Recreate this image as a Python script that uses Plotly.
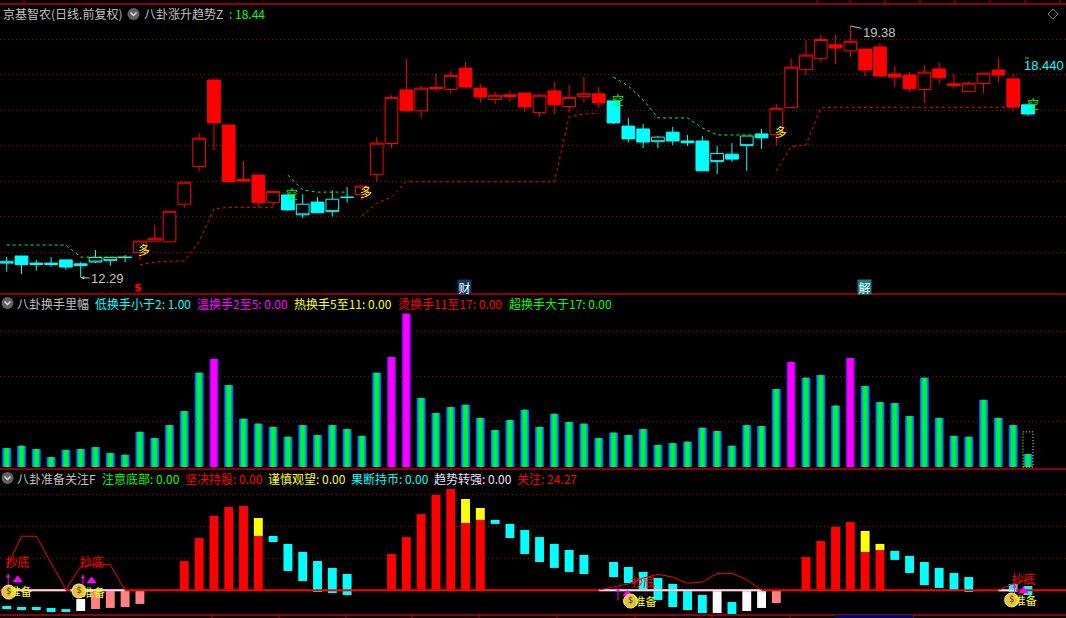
import plotly.graph_objects as go

W, H = 1066, 618
RED, CYAN, GREEN, YEL, MAG = "#ff0000", "#00ffff", "#00ff00", "#ffff00", "#ff00ff"
GREY = "#c0c0c0"
CJK = "Noto Sans CJK SC"

# ---------- main panel: candles (top / bottom of the body, high, low) ----------
BODY_TOP = [12.75,12.90,12.70,12.70,12.79,12.68,12.86,12.86,12.87,13.32,13.40,14.16,14.98,16.22,17.86,16.59,15.06,15.18,14.72,14.62,
            14.36,14.42,14.50,14.56,14.87,16.08,17.37,17.58,17.63,17.65,17.99,18.19,17.63,17.43,17.44,17.49,17.43,17.55,17.37,17.47,
            17.47,17.27,16.56,16.48,16.25,16.39,16.14,16.14,15.79,15.77,16.28,16.34,17.06,18.22,18.56,19.00,18.85,18.95,18.73,18.79,
            18.03,18.00,18.08,18.17,17.75,17.77,18.05,18.14,17.89,17.16]
BODY_BOT = [12.70,12.66,12.66,12.66,12.59,12.63,12.73,12.77,12.86,13.00,13.32,13.30,14.36,15.42,16.65,14.99,15.01,14.40,14.41,14.20,
            14.06,14.12,14.15,14.55,14.63,15.19,16.07,16.99,16.99,17.61,17.59,17.66,17.38,17.31,17.39,17.10,16.94,17.16,17.11,17.39,
            17.21,16.65,16.20,16.11,16.12,16.14,16.09,15.30,15.56,15.63,16.01,16.23,16.32,17.08,18.15,18.46,18.76,18.68,18.14,17.97,
            17.94,17.61,17.59,17.92,17.70,17.53,17.76,18.00,17.10,16.90]
HIGH = [12.88,12.90,12.79,12.87,12.79,12.73,13.07,12.86,12.93,13.32,13.77,14.16,14.98,16.36,17.86,16.59,15.58,15.18,14.72,14.62,
        14.64,14.56,14.75,14.84,14.87,16.25,17.43,18.45,17.69,18.05,18.11,18.37,17.75,17.52,17.55,17.49,17.47,17.80,17.72,17.94,
        17.66,17.27,16.79,16.62,16.28,16.54,16.31,16.28,16.00,16.08,16.28,16.48,17.18,18.47,18.99,19.13,19.13,19.38,18.73,18.90,
        18.25,18.09,18.28,18.35,18.03,17.83,18.05,18.48,18.03,17.16]
LOW = [12.46,12.39,12.49,12.60,12.51,12.29,12.70,12.62,12.73,12.79,13.32,13.28,14.26,15.28,15.89,14.99,14.99,14.27,14.31,14.18,
       13.97,14.12,14.01,14.40,14.48,14.99,15.95,16.96,16.80,17.53,17.47,17.61,17.22,17.18,17.24,16.96,16.82,16.90,16.94,17.22,
       17.07,16.62,16.11,15.94,15.94,16.03,16.00,15.30,15.21,15.55,15.30,15.92,16.01,17.08,18.00,18.37,18.31,18.51,17.97,17.94,
       17.66,17.52,17.21,17.75,17.61,17.53,17.49,17.80,16.99,16.85]
# 'h' = hollow, 'f' = filled
STYLE = ["h","f","f","f","f","f","h","h","f","h","h","h","h","h","f","f","f","f","h","f",
         "h","f","h","f","h","h","h","f","h","f","h","f","f","h","f","f","h","f","h","h",
         "f","f","f","f","h","f","f","f","h","f","h","f","h","h","h","h","f","h","f","f",
         "f","f","h","f","f","h","h","f","f","f"]
# 'c' = cyan candle, 'r' = red candle
COLOUR = ["c"]*9 + ["r"]*10 + ["c"]*5 + ["r"]*17 + ["c"]*11 + ["r"]*17 + ["c"]

# trend lines on the main panel: (candle index, price)
GREEN_IDX = [[0,1,2,3,4,5,6,7,8], [19,20,21,22,23], [41,42,43,44,45,46,47,48,49,50,51]]
GREEN_VAL = [[13.21,13.21,13.21,13.21,13.21,12.87,12.87,12.87,12.87], [15.18,14.76,14.70,14.70,14.70],
             [17.94,17.69,17.30,16.79,16.79,16.79,16.51,16.31,16.31,16.31,16.31]]
RED_IDX = [[9,10,11,12,13,14,15,16,17,18],
           [24,25,26,27,28,29,30,31,32,33,34,35,36,37,38,39,40],
           [52,53,54,55,56,57,58,59,60,61,62,63,64,65,66,67,68]]
RED_VAL = [[12.65,12.73,12.75,12.76,13.30,14.23,14.27,14.27,14.27,14.27],
           [14.03,14.39,14.56,14.99,14.99,14.99,14.99,14.99,14.99,14.99,14.99,14.99,14.99,14.99,16.82,16.90,16.92],
           [15.30,15.98,16.03,17.07,17.09,17.09,17.09,17.09,17.09,17.09,17.09,17.09,17.09,17.09,17.09,17.09,17.09]]
DUO_X, DUO_Y = [9.28, 24.28, 52.3], [13.01, 14.65, 16.34]
KONG_X, KONG_Y = [19.28, 41.3, 69.35], [14.59, 17.24, 17.13]
LOW_LABEL, HIGH_LABEL, LAST_PRICE = 12.29, 19.38, 18.44

# ---------- middle panel: turnover ----------
TURNOVER = [0.42,0.47,0.40,0.22,0.38,0.40,0.44,0.31,0.27,0.78,0.64,0.93,1.24,2.09,2.40,1.82,1.07,0.96,0.89,0.67,
            0.93,0.71,0.93,0.84,0.69,2.09,2.44,3.40,1.53,1.20,1.33,1.38,1.09,0.82,1.04,1.27,0.89,1.18,1.00,0.96,
            0.64,0.76,0.71,0.84,0.49,0.53,0.56,0.87,0.80,0.47,0.93,0.91,1.73,2.33,1.98,2.04,1.36,2.42,1.80,1.44,
            1.42,1.13,1.98,1.09,0.69,0.67,1.49,1.09,0.93,0.29]
LAST_OUTLINE = 0.78
HOT_LIMIT = 2.2

# ---------- bottom panel ----------
CYAN_IDX = [0,1,2,3,4,18,19,20,21,22,23,33,34,35,36,37,38,39,41,42,43,44,45,46,47,49,60,61,62,63,64,65,68,69]
CYAN_TOP = [-9.8,-10.4,-10.4,-11.0,-11.7,34.0,29.0,24.0,18.3,14.0,10.2,44.0,41.5,37.7,33.3,29.0,25.2,22.1,17.7,14.6,11.5,7.7,4.0,-0.4,-2.9,-7.3,24.6,21.5,17.7,14.0,10.8,8.3,4.0,2.7]
CYAN_BOT = [-11.7,-12.3,-12.3,-13.5,-13.5,30.2,12.1,5.8,-1.0,-1.7,-2.9,41.5,32.7,22.7,17.7,14.0,11.5,10.2,8.3,4.6,-0.4,-6.0,-10.4,-12.3,-14.2,-14.8,19.0,10.8,3.3,1.5,0.2,-1.0,-1.0,-2.9]
WHITE_IDX = [5,48,50,51]
WHITE_TOP = [-5.4,0,0,0]
WHITE_BOT = [-12.9,-14.2,-12.9,-11.0]
PINK_IDX = [6,7,8,9,52]
PINK_BOT = [-11.7,-11.0,-10.4,-8.5,-7.9]
RED_BAR_IDX = [12,13,14,15,16,17,26,27,28,29,30,31,32,54,55,56,57,58,59]
RED_BAR_TOP = [18.3,32.7,46.5,52.1,52.7,34.0,22.7,33.3,47.7,59.6,63.3,42.1,44.0,20.8,30.8,39.6,42.7,24.0,25.2]
YEL_IDX = [17,31,32,58,59]
YEL_BASE = [34.0,42.1,44.0,24.0,25.2]
YEL_TOP = [45.2,57.1,51.5,37.1,29.0]
CURVE_IDX = [[0,1,2,3,4,5,6,7,8], [40,41,42,43,44,45,46,47,48,49,50,51], [67,68,69]]
CURVE_VAL = [[14.0,33.8,33.8,17.0,0.4,15.0,16.0,16.0,0.0],
             [0.2,1.9,4.0,7.7,10.0,8.3,4.4,5.2,10.6,10.6,6.7,0.0], [0.0,4.2,6.7]]
LILAC_IDX = [[0,4], [4.3,8], [40,51], [67,68.2]]
CHAODI_X, CHAODI_Y = [0.73,5.75,43.0,68.7], [16.4,16.4,3.9,5.8]
ZHUNBEI_X, ZHUNBEI_Y = [0.95,5.88,43.16,68.85], [-1.7,-2.3,-7.9,-7.3]
BAG_X, BAG_Y = [0.14,4.88,42.15,67.9], [-1.1,-0.4,-6.7,-6.0]
TRI_X, TRI_Y = [0.74,5.74,41.94,68.7], [6.4,5.8,-2.3,-0.4]
ARROW_X, ARROW_Y = [0.1,5.15,41.3,68.1], [6.4,5.8,-2.3,0.2]

# ---------- header texts: (text, colour, left pixel) ----------
ROW1 = [("京基智农(日线.前复权)", GREY, 3), ("八卦涨升趋势Z", GREY, 144), (":", GREEN, 229), ("18.44", GREEN, 235)]
ROW2 = [("八卦换手里幅", GREY, 17), ("低换手小于2: 1.00", CYAN, 95), ("温换手2至5: 0.00", MAG, 197),
        ("热换手5至11: 0.00", YEL, 294), ("烫换手11至17: 0.00", RED, 398), ("超换手大于17: 0.00", GREEN, 509)]
ROW3 = [("八卦准备关注F", GREY, 17), ("注意底部: 0.00", GREEN, 102), ("坚决持股: 0.00", RED, 185),
        ("谨慎观望: 0.00", YEL, 268), ("果断持币: 0.00", CYAN, 351), ("趋势转强: 0.00", "#f0e0ff", 434),
        ("关注: 24.27", RED, 517)]

fig = go.Figure()

def dom(top, bot):
    return [1 - bot / H, 1 - top / H]

# candles: one trace for hollow, one for filled
def sub(seq, style):
    return [v for v, s in zip(seq, STYLE) if s == style]

opens = [b if c == "r" else t for t, b, c in zip(BODY_TOP, BODY_BOT, COLOUR)]
closes = [t if c == "r" else b for t, b, c in zip(BODY_TOP, BODY_BOT, COLOUR)]
idx = list(range(len(BODY_TOP)))
for style in ("h", "f"):
    fig.add_trace(go.Candlestick(
        x=sub(idx, style), open=sub(opens, style), high=sub(HIGH, style), low=sub(LOW, style), close=sub(closes, style),
        xaxis="x", yaxis="y", whiskerwidth=0,
        increasing=dict(line=dict(color=RED, width=1), fillcolor="#000000" if style == "h" else RED),
        decreasing=dict(line=dict(color=CYAN, width=1), fillcolor="#000000" if style == "h" else CYAN),
        showlegend=False))

for xs, ys in zip(GREEN_IDX, GREEN_VAL):
    fig.add_trace(go.Scatter(x=xs, y=ys, mode="lines", xaxis="x", yaxis="y",
                             line=dict(color=GREEN, width=1, dash="3px,3px")))
for xs, ys in zip(RED_IDX, RED_VAL):
    fig.add_trace(go.Scatter(x=xs, y=ys, mode="lines", xaxis="x", yaxis="y",
                             line=dict(color=RED, width=1, dash="3px,3px")))
fig.add_trace(go.Scatter(x=DUO_X, y=DUO_Y, mode="text", text=["多"] * 3, xaxis="x", yaxis="y",
                         textfont=dict(family=CJK, size=12, color=YEL)))
fig.add_trace(go.Scatter(x=KONG_X, y=KONG_Y, mode="text", text=["空"] * 3, xaxis="x", yaxis="y",
                         textfont=dict(family=CJK, size=12, color=GREEN)))

# turnover bars: each gradient is a few nested bars
cool = [TURNOVER[i] if TURNOVER[i] < HOT_LIMIT else None for i in idx]
hot = [TURNOVER[i] if TURNOVER[i] >= HOT_LIMIT else None for i in idx]
for w, col in ((0.60, "#0068ff"), (0.46, "#0098f0"), (0.34, "#00d0a0"), (0.20, "#00ff00")):
    fig.add_trace(go.Bar(x=idx, y=cool, width=w, xaxis="x2", yaxis="y2", marker=dict(color=col, line_width=0)))
for w, col in ((0.60, "#7010ff"), (0.48, "#c000ff"), (0.36, "#ff00ff")):
    fig.add_trace(go.Bar(x=idx, y=hot, width=w, xaxis="x2", yaxis="y2", marker=dict(color=col, line_width=0)))

# bottom panel bars
def floating(xs, tops, bots, col):
    fig.add_trace(go.Bar(x=xs, y=[t - b for t, b in zip(tops, bots)], base=bots, width=0.6,
                         xaxis="x3", yaxis="y3", marker=dict(color=col, line_width=0)))

floating(CYAN_IDX, CYAN_TOP, CYAN_BOT, CYAN)
floating(WHITE_IDX, WHITE_TOP, WHITE_BOT, "#fafafa")
floating(PINK_IDX, [0] * len(PINK_IDX), PINK_BOT, "#ff8080")
floating(RED_BAR_IDX, RED_BAR_TOP, [0] * len(RED_BAR_IDX), RED)
floating(YEL_IDX, YEL_TOP, YEL_BASE, YEL)

X_RANGE = [-0.4527, 71.57]
fig.add_trace(go.Scatter(x=X_RANGE, y=[0, 0], mode="lines", xaxis="x3", yaxis="y3",
                         line=dict(color=RED, width=2)))
for xs in LILAC_IDX:
    fig.add_trace(go.Scatter(x=xs, y=[0, 0], mode="lines", xaxis="x3", yaxis="y3",
                             line=dict(color="#f4dcff", width=2)))
for xs, ys in zip(CURVE_IDX, CURVE_VAL):
    fig.add_trace(go.Scatter(x=xs, y=ys, mode="lines", xaxis="x3", yaxis="y3",
                             line=dict(color=RED, width=1)))
fig.add_trace(go.Scatter(x=TRI_X, y=TRI_Y, mode="markers", xaxis="x3", yaxis="y3",
                         marker=dict(symbol="triangle-up", size=9, color=MAG)))
fig.add_trace(go.Scatter(x=ARROW_X, y=ARROW_Y, mode="markers", xaxis="x3", yaxis="y3",
                         marker=dict(symbol="line-ns-open", size=9, color=MAG, line=dict(color=MAG, width=1))))
fig.add_trace(go.Scatter(x=ARROW_X, y=[v + 2.2 for v in ARROW_Y], mode="markers", xaxis="x3", yaxis="y3",
                         marker=dict(symbol="triangle-up", size=4, color=MAG)))
fig.add_trace(go.Scatter(x=BAG_X, y=BAG_Y, mode="markers+text", text=["$"] * 4, textposition="middle center",
                         xaxis="x3", yaxis="y3",
                         marker=dict(symbol="circle", size=14, color="#e8c040", line=dict(color="#fff0a0", width=1)),
                         textfont=dict(family="DejaVu Sans", size=8, color="#503000")))
fig.add_trace(go.Scatter(x=CHAODI_X, y=CHAODI_Y, mode="text", text=["抄底"] * 4, xaxis="x3", yaxis="y3",
                         textfont=dict(family=CJK, size=12, color=RED)))
fig.add_trace(go.Scatter(x=ZHUNBEI_X, y=ZHUNBEI_Y, mode="text", text=["准备"] * 4, xaxis="x3", yaxis="y3",
                         textfont=dict(family=CJK, size=11, color=YEL)))

# ---------- annotations ----------
ann = []
for row, ypx in ((ROW1, 14), (ROW2, 303), (ROW3, 478)):
    for text, col, xpx in row:
        ann.append(dict(xref="paper", yref="paper", x=xpx / W, y=1 - ypx / H, text=text, showarrow=False,
                        xanchor="left", yanchor="middle", font=dict(family=CJK, size=12, color=col), borderpad=0, borderwidth=0))
ann += [
    dict(xref="x", yref="y", x=57, y=HIGH_LABEL, text=f"{HIGH_LABEL:.2f}", showarrow=True, axref="pixel", ayref="pixel",
         ax=29, ay=6, arrowhead=0, arrowcolor=GREY, arrowwidth=1, font=dict(family="Liberation Sans", size=13, color=GREY)),
    dict(xref="x", yref="y", x=5, y=LOW_LABEL, text=f"{LOW_LABEL:.2f}", showarrow=True, axref="pixel", ayref="pixel",
         ax=27, ay=1, arrowhead=2, arrowsize=0.7, arrowcolor=GREY, arrowwidth=1, font=dict(family="Liberation Sans", size=13, color=GREY)),
    dict(xref="paper", yref="paper", x=1044 / W, y=1 - 65 / H, text=f"{LAST_PRICE:.3f}", showarrow=False,
         xanchor="center", yanchor="middle", font=dict(family="Liberation Sans", size=13, color=CYAN)),
    dict(xref="x", yref="paper", x=8.85, y=1 - 287 / H, text="<b>$</b>", showarrow=False,
         xanchor="center", yanchor="middle", font=dict(family="DejaVu Sans", size=11, color=RED)),
    dict(xref="paper", yref="paper", x=464.5 / W, y=1 - 286.5 / H, text="财", showarrow=False, bgcolor="#10386a", borderpad=0,
         xanchor="center", yanchor="middle", width=13, height=14, font=dict(family=CJK, size=12, color="#ffffff")),
    dict(xref="paper", yref="paper", x=864.5 / W, y=1 - 286.5 / H, text="解", showarrow=False, bgcolor="#108080", borderpad=0,
         xanchor="center", yanchor="middle", width=13, height=14, font=dict(family=CJK, size=12, color="#ffffff")),
]

# ---------- frame furniture ----------
shapes = []
def px_line(x0, y0, x1, y1, col="#c00000", w=1.5):
    shapes.append(dict(type="line", xref="paper", yref="paper", x0=x0 / W, x1=x1 / W, y0=1 - y0 / H, y1=1 - y1 / H,
                       line=dict(color=col, width=w)))
for y in (4, 294, 469, 615):
    px_line(0, y, W, y)
for x in (24, 817, 850, 885, 920, 955, 990, 1025, 1060):
    px_line(x, 0, x, 4, w=1)
for x in (212, 279, 346, 412, 479, 557, 635, 712, 790, 913):
    px_line(x, 615, x, 618, w=1)
px_line(835, 616.5, 913, 616.5, col="#000080", w=3)
for cx, cy in ((133.5, 14), (7.5, 303), (7.5, 478)):
    shapes.append(dict(type="circle", xref="paper", yref="paper", x0=(cx - 6) / W, x1=(cx + 6) / W,
                       y0=1 - (cy + 6) / H, y1=1 - (cy - 6) / H, fillcolor="#606060", line=dict(width=0)))
    shapes.append(dict(type="path", xref="paper", yref="paper",
                       path=f"M {(cx-3)/W} {1-(cy-1.5)/H} L {cx/W} {1-(cy+1.5)/H} L {(cx+3)/W} {1-(cy-1.5)/H}",
                       line=dict(color="#e0e0e0", width=1.5)))
shapes.append(dict(type="path", xref="paper", yref="paper",
                   path=f"M {1048/W} {1-14/H} L {1053/W} {1-9/H} L {1058/W} {1-14/H} L {1053/W} {1-19/H} Z",
                   line=dict(color="#808080", width=1)))
px_line(1025, 58, 1029, 58, col=GREEN, w=1)
shapes.append(dict(type="rect", xref="x2", yref="y2", x0=68.66, x1=69.34, y0=0, y1=LAST_OUTLINE,
                   line=dict(color=YEL, width=1, dash="1px,2px")))

axis_common = dict(showticklabels=False, ticks="", zeroline=False, showline=False)
grid = dict(showgrid=True, gridcolor="#a80000", griddash="1px,3px", gridwidth=1)
fig.update_layout(
    width=W, height=H, margin=dict(l=0, r=0, t=0, b=0), paper_bgcolor="#000000", plot_bgcolor="#000000",
    showlegend=False, barmode="overlay", boxmode="overlay", boxgap=0.14, boxgroupgap=0, hovermode=False,
    annotations=ann, shapes=shapes,
    xaxis=dict(domain=[0, 1], range=X_RANGE, anchor="y", showgrid=False, rangeslider=dict(visible=False), **axis_common),
    yaxis=dict(domain=dom(4, 294), range=[11.83, 20.0], anchor="x", tickvals=[13, 14, 15, 16, 17, 18, 19], **grid, **axis_common),
    xaxis2=dict(domain=[0, 1], range=X_RANGE, anchor="y2", showgrid=False, **axis_common),
    yaxis2=dict(domain=dom(294, 469), range=[-0.044, 3.84], anchor="x2", tickvals=[1, 2, 3], **grid, **axis_common),
    xaxis3=dict(domain=[0, 1], range=X_RANGE, anchor="y3", showgrid=False, **axis_common),
    yaxis3=dict(domain=dom(469.3, 615), range=[-15.4, 75.6], anchor="x3", tickvals=[20, 40, 60], **grid, **axis_common),
)

fig.write_html("out.html", config={"displayModeBar": False},
               post_script="document.body.style.margin='0';document.body.style.overflow='hidden';document.body.style.background='#000';")
